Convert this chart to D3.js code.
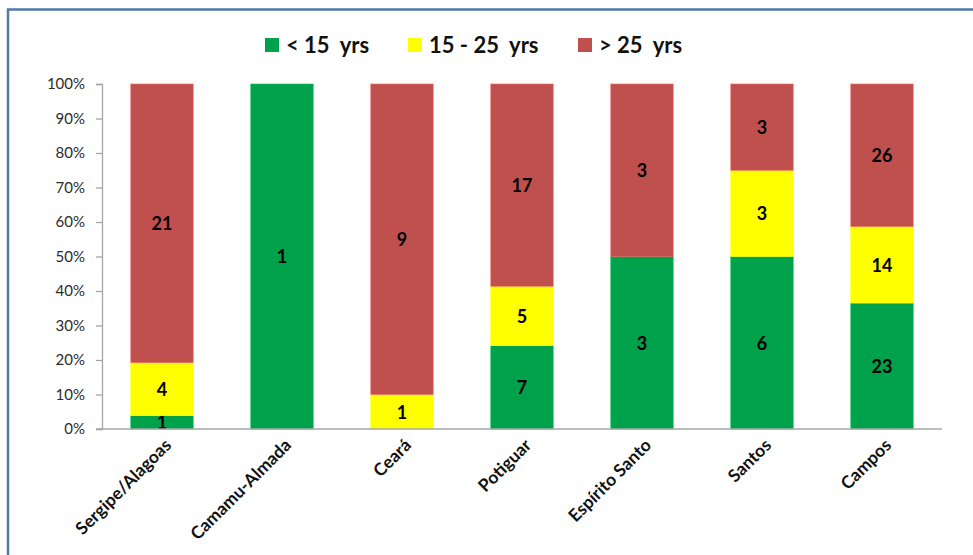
<!DOCTYPE html>
<html>
<head>
<meta charset="utf-8">
<script src="https://cdn.jsdelivr.net/npm/d3@7"></script>
<style>
  body { margin: 0; background: #fff; }
  text { font-family: Lato, "Open Sans", sans-serif; }
</style>
</head>
<body>
<div id="container"></div>
<script>
var width = 973,
    height = 555;

// data
var basins = ["Sergipe/Alagoas", "Camamu-Almada", "Ceará", "Potiguar", "Espírito Santo", "Santos", "Campos"];
var under15 = [1, 1, 0, 7, 3, 6, 23];
var from15to25 = [4, 0, 1, 5, 0, 3, 14];
var over25 = [21, 0, 9, 17, 3, 3, 26];
var seriesNames = ["< 15\u00A0\u00A0yrs", "15 - 25\u00A0\u00A0yrs", "> 25\u00A0\u00A0yrs"];
var colors = ["#00A14B", "#FFFF00", "#C0504D"];
var yTicks = [0, 0.1, 0.2, 0.3, 0.4, 0.5, 0.6, 0.7, 0.8, 0.9, 1];

var svg = d3.select("#container").append("svg")
    .attr("width", width)
    .attr("height", height);

// frame (only top and left edges show in the picture)
svg.append("path")
    .attr("d", "M8," + height + "V9.5H" + width)
    .attr("fill", "none")
    .attr("stroke", "#4F7BAA")
    .attr("stroke-width", 2.5);

var plotLeft = 102, plotRight = 942, plotTop = 84, plotBottom = 429;

var x = d3.scaleBand().domain(basins).range([plotLeft, plotRight]).paddingInner(0.48).paddingOuter(0.24);
var y = d3.scaleLinear().domain([0, 1]).range([plotBottom, plotTop]);

var rows = basins.map((b, i) => ({ basin: b, s0: under15[i], s1: from15to25[i], s2: over25[i] }));
var stack = d3.stack().keys(["s0", "s1", "s2"]).offset(d3.stackOffsetExpand);
var layers = stack(rows);

// y axis
var yAxis = svg.append("g")
    .attr("transform", "translate(" + plotLeft + ",0)")
    .call(d3.axisLeft(y).tickValues(yTicks).tickFormat(d3.format(".0%")).tickSize(6).tickPadding(11));
yAxis.select(".domain").attr("stroke", "#A6A6A6").attr("stroke-width", 1.3);
yAxis.selectAll(".tick line").attr("stroke", "#A6A6A6").attr("stroke-width", 1.3);
yAxis.selectAll(".tick text")
    .attr("fill", "#2b2b2b")
    .style("font-size", "15px")
    .style("font-family", "Lato, sans-serif");

// bars
var g = svg.append("g");
layers.forEach((layer, k) => {
    g.selectAll(".bar" + k)
        .data(layer)
        .join("rect")
        .attr("class", "bar" + k)
        .attr("x", d => x(d.data.basin))
        .attr("width", x.bandwidth())
        .attr("y", d => y(d[1]))
        .attr("height", d => y(d[0]) - y(d[1]))
        .attr("fill", colors[k])
        .attr("stroke", d3.color(colors[k]).brighter(0.6))
        .attr("stroke-width", 0.6);

    g.selectAll(".lab" + k)
        .data(layer.filter(d => d.data["s" + k] > 0))
        .join("text")
        .attr("class", "lab" + k)
        .attr("x", d => x(d.data.basin) + x.bandwidth() / 2)
        .attr("y", d => (y(d[0]) + y(d[1])) / 2)
        .attr("dy", "0.38em")
        .attr("text-anchor", "middle")
        .attr("font-weight", "bold")
        .attr("font-size", 18)
        .attr("fill", "#000")
        .text(d => d.data["s" + k]);
});

// x axis baseline
svg.append("line")
    .attr("x1", plotLeft - 6).attr("x2", plotRight)
    .attr("y1", plotBottom).attr("y2", plotBottom)
    .attr("stroke", "#A6A6A6").attr("stroke-width", 1.3);

// category labels, rotated
svg.append("g").selectAll("text")
    .data(basins)
    .join("text")
    .attr("transform", d => "translate(" + (x(d) + x.bandwidth() / 2 + 6) + "," + (plotBottom + 13) + ") rotate(-45)")
    .attr("text-anchor", "end")
    .attr("dy", "0.35em")
    .attr("font-weight", "bold")
    .attr("font-size", 17.5)
    .attr("fill", "#111")
    .text(d => d);

// legend
var legendX = [265, 408, 578];
var legend = svg.append("g");
seriesNames.forEach((name, k) => {
    legend.append("rect")
        .attr("x", legendX[k]).attr("y", 38)
        .attr("width", 14).attr("height", 14)
        .attr("fill", colors[k]);
    legend.append("text")
        .attr("x", legendX[k] + 21).attr("y", 53)
        .attr("font-size", 22)
        .attr("font-weight", 700)
        .attr("fill", "#111")
        .text(name);
});
</script>
</body>
</html>
